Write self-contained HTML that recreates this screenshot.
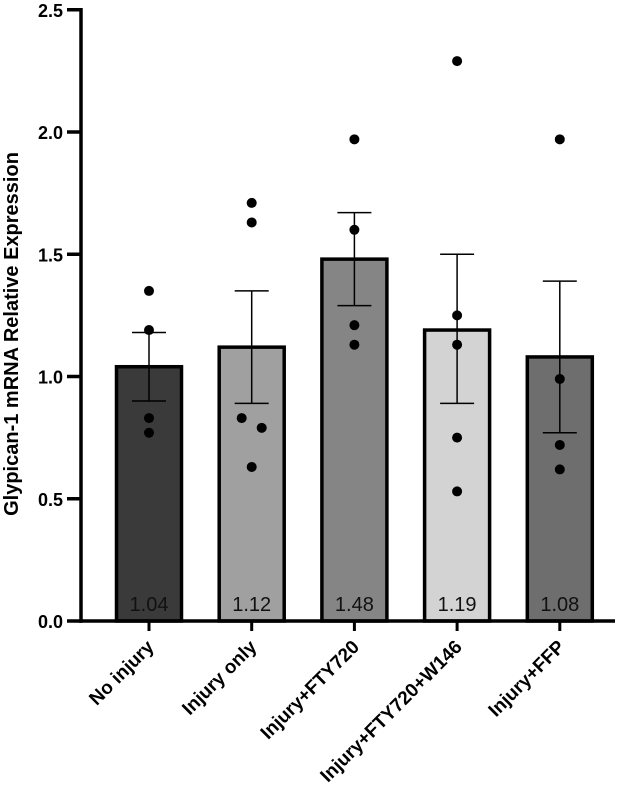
<!DOCTYPE html>
<html><head><meta charset="utf-8"><style>body{margin:0;background:#fff}svg{display:block;font-family:"Liberation Sans",Arial,sans-serif}</style></head>
<body>
<svg id="chart" width="629" height="788"></svg>
<script>
const categories=["No injury","Injury only","Injury+FTY720","Injury+FTY720+W146","Injury+FFP"];
const means=[1.04,1.12,1.48,1.19,1.08];
const errLow=[0.90,0.89,1.29,0.89,0.77];
const errHigh=[1.18,1.35,1.67,1.50,1.39];
const points=[[1.35,1.19,0.83,0.77],[1.71,1.63,0.83,0.79,0.63],[1.97,1.60,1.21,1.13],[2.29,1.25,1.13,0.75,0.53],[1.97,0.99,0.72,0.62]];
const pointOffsets=[[0,0,0,0],[0,0,-10,10,0],[0,0,0,0],[0,0,0,0,0],[0,0,0,0]];
const fills=["#3a3a3a","#a0a0a0","#858585","#d3d3d3","#6e6e6e"];
const yTicks=[0,0.5,1.0,1.5,2.0,2.5];
const yTickLabels=["0.0","0.5","1.0","1.5","2.0","2.5"];
const NS="http://www.w3.org/2000/svg";
const svg=document.getElementById("chart");
const y0=621,yScale=244.5,x0=149,step=102.7,bw=65;
const yPos=v=>y0-v*yScale;
const xPos=i=>x0+i*step;
function mk(t,a,p){const e=document.createElementNS(NS,t);for(const k in a)e.setAttribute(k,a[k]);(p||svg).appendChild(e);return e;}
categories.forEach((c,i)=>{
  const cx=xPos(i);
  const r=mk("rect",{x:cx-bw/2,y:yPos(means[i]),width:bw,height:y0-yPos(means[i]),fill:fills[i],stroke:"#000","stroke-width":3.5});
  
  
  const t=mk("text",{x:cx,y:611,"text-anchor":"middle","font-size":20,fill:"#111"});
  t.textContent=means[i].toFixed(2);
  
  
  const g=mk("g",{stroke:"#000","stroke-width":1.5});
  
  
  mk("line",{x1:cx,x2:cx,y1:yPos(errLow[i]),y2:yPos(errHigh[i])},g);
  mk("line",{x1:cx-17,x2:cx+17,y1:yPos(errLow[i]),y2:yPos(errLow[i])},g);
  mk("line",{x1:cx-17,x2:cx+17,y1:yPos(errHigh[i]),y2:yPos(errHigh[i])},g);
  points[i].forEach((v,j)=>{
    const d=mk("circle",{cx:cx+pointOffsets[i][j],cy:yPos(v),r:5,fill:"#000"});
    
    
  });
  mk("line",{x1:cx,x2:cx,y1:y0,y2:y0+10,stroke:"#000","stroke-width":3});
  const lx=cx+6,ly=648;
  const xl=mk("text",{x:lx,y:ly,"text-anchor":"end","font-size":19,"font-weight":"bold",transform:`rotate(-45 ${lx} ${ly})`});
  xl.textContent=c;
  
  
});
const ax=mk("g",{stroke:"#000","stroke-width":3.5});


mk("line",{x1:81,x2:81,y1:8,y2:y0+1.75},ax);
mk("line",{x1:79.25,x2:615,y1:y0,y2:y0},ax);
yTicks.forEach((v,i)=>{
  mk("line",{x1:67,x2:81,y1:yPos(v),y2:yPos(v)},ax);
  const t=mk("text",{x:63,y:yPos(v)+7,"text-anchor":"end","font-size":18,"font-weight":"bold"});
  t.textContent=yTickLabels[i];
  
  
});
const yt=mk("text",{x:18,y:334,"text-anchor":"middle","font-size":20,"font-weight":"bold",transform:"rotate(-90 18 334)"});
yt.textContent="Glypican-1 mRNA Relative Expression";


</script>
</body></html>
